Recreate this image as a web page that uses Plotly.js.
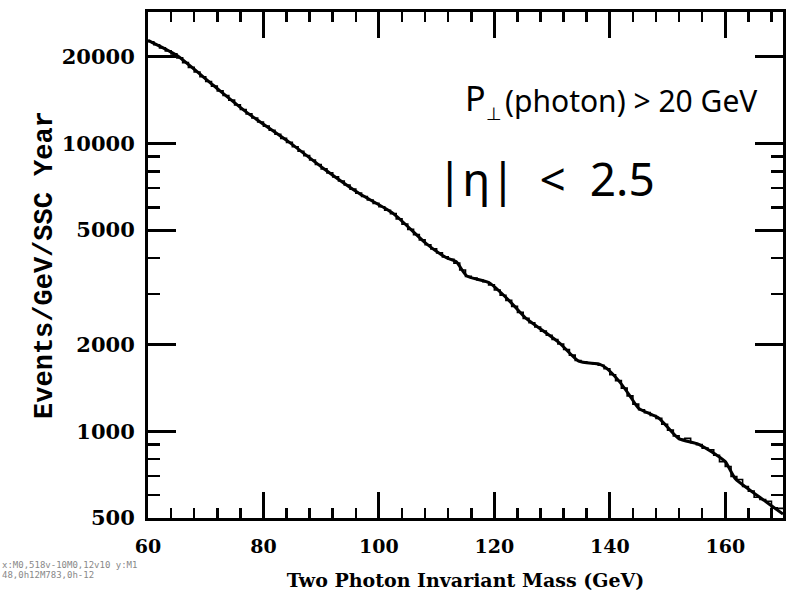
<!DOCTYPE html>
<html>
<head>
<meta charset="utf-8">
<script src="https://cdn.plot.ly/plotly-3.0.1.min.js"></script>
</head>
<body style="margin:0">
<div id="chart"></div>
<div id="dbg" style="position:absolute;left:2px;top:560px;font:9px monospace;width:140px;word-break:break-all;color:#888"></div>
<script>
// ---- Data ----
// Histogram bin edges (GeV), 1 GeV bins
const massEdges = [60,61,62,63,64,65,66,67,68,69,70,71,72,73,74,75,76,77,78,79,
  80,81,82,83,84,85,86,87,88,89,90,91,92,93,94,95,96,97,98,99,
  100,101,102,103,104,105,106,107,108,109,110,111,112,113,114,115,116,117,118,119,
  120,121,122,123,124,125,126,127,128,129,130,131,132,133,134,135,136,137,138,139,
  140,141,142,143,144,145,146,147,148,149,150,151,152,153,154,155,156,157,158,159,
  160,161,162,163,164,165,166,167,168,169,170];

// Events / GeV / SSC year in each bin
const eventsPerBin = [22540,22000,21470,20960,20460,19810,19080,18370,17690,17040,
  16410,15810,15220,14670,14130,13610,13110,12660,12250,11860,
  11480,11110,10760,10410,10080,9730,9390,9070,8755,8450,
  8157,7900,7650,7405,7170,6940,6720,6537,6362,6190,
  6022,5861,5702,5468,5242,5027,4820,4623,4444,4303,
  4167,4035,3961,3840,3633,3453,3404,3357,3309,3227,
  3096,2970,2850,2717,2589,2467,2382,2304,2228,2155,
  2084,2011,1923,1840,1761,1743,1730,1718,1697,1650,
  1573,1500,1413,1328,1243,1189,1161,1135,1109,1058,
  1010,964,938,945,913,899,874,862,826,785,
  755,697,680,643,620,590,580,572,542,540];

// Smooth curve through the distribution
const curveMass = [60,60.6,64.9,71.3,77.1,84.5,90.4,96.6,102.5,108.2,111.7,113.4,115.2,119.1,
  122.6,125.6,128.5,131.3,134.6,138.2,139.4,141.6,143.3,145.0,148.5,151.9,155.4,158.3,
  160.0,161.7,164.6,167.7,170];
const curveEvents = [22800,22490,20260,15920,12820,10080,8183,6697,5704,4486,4008,3880,3467,3281,
  2840,2456,2230,2026,1753,1711,1658,1494,1345,1202,1110,945,901,832,
  786,686,618,557,516];

// Axis ticks
const xTicks = [60,80,100,120,140,160];
const xMinorTicks = [64,68,72,76,84,88,92,96,104,108,112,116,124,128,132,136,144,148,152,156,164,168];
const yTicks = [500,1000,2000,5000,10000,20000];
const yMinorTicks = [600,700,800,900,3000,4000,6000,7000,8000,9000];

const xRange = [60, 170];
const yRange = [Math.log10(500), Math.log10(28600)];
const plotW = 795 - 148 - 12;
const plotH = 606 - 12 - 88;

const histY = eventsPerBin.concat([eventsPerBin[eventsPerBin.length - 1]]);

const traces = [
  {
    type: 'scatter', mode: 'lines',
    x: curveMass, y: curveEvents,
    line: {color: '#000000', width: 3, shape: 'spline', smoothing: 0.6}
  },
  {
    type: 'scatter', mode: 'lines',
    x: massEdges, y: histY,
    line: {color: '#000000', width: 1.6, shape: 'hv'}
  }
];

const layout = {
  width: 795, height: 606,
  paper_bgcolor: '#fff', plot_bgcolor: '#fff',
  margin: {l: 148, r: 12, t: 12, b: 88},
  showlegend: false,
  xaxis: {
    range: xRange,
    tickmode: 'array', tickvals: xTicks,
    ticks: 'inside', ticklen: 26, tickwidth: 3, tickcolor: '#000000',
    showline: true, linewidth: 3, linecolor: '#000000', mirror: 'ticks',
    showgrid: false, zeroline: false,
    minor: {tickmode: 'array', tickvals: xMinorTicks, ticks: 'inside', ticklen: 10, tickwidth: 2.5, tickcolor: '#000000', showgrid: false},
    tickfont: {family: 'DejaVu Serif', size: 19, color: '#000000', weight: 'bold'},
    ticklabelstandoff: 9,
    title: {text: 'Two Photon Invariant Mass (GeV)',
      font: {family: 'DejaVu Serif', size: 19, color: '#000000', weight: 'bold'}}
  },
  yaxis: {
    type: 'log',
    range: yRange,
    tickmode: 'array', tickvals: yTicks, tickformat: 'd',
    ticks: 'inside', ticklen: 28, tickwidth: 3, tickcolor: '#000000',
    showline: true, linewidth: 3, linecolor: '#000000', mirror: 'ticks',
    showgrid: false, zeroline: false,
    minor: {tickmode: 'array', tickvals: yMinorTicks, ticks: 'inside', ticklen: 12, tickwidth: 2.5, tickcolor: '#000000', showgrid: false},
    tickfont: {family: 'DejaVu Serif', size: 21, color: '#000000', weight: 'bold'},
    ticklabelstandoff: 6,
    title: {text: 'Events/GeV/SSC Year',
      font: {family: 'Liberation Mono', size: 27, color: '#000000', weight: 'bold'}}
  },
  annotations: [
    {
      xref: 'paper', yref: 'paper',
      x: (463 - 148) / plotW, y: (518 - 98) / plotH,
      xanchor: 'left', yanchor: 'middle',
      text: 'P', showarrow: false,
      font: {family: 'Noto Sans', size: 34, color: '#000000'}
    },
    {
      xref: 'paper', yref: 'paper',
      x: (484 - 148) / plotW, y: (518 - 114) / plotH,
      xanchor: 'left', yanchor: 'middle',
      text: '⊥', showarrow: false,
      font: {family: 'DejaVu Sans', size: 18, color: '#000000'}
    },
    {
      xref: 'paper', yref: 'paper',
      x: (503 - 148) / plotW, y: (518 - 100) / plotH,
      xanchor: 'left', yanchor: 'middle',
      text: '(photon) > 20 GeV', showarrow: false,
      font: {family: 'Noto Sans', size: 30, color: '#000000'}
    },
    {
      xref: 'paper', yref: 'paper',
      x: (435 - 148) / plotW, y: (518 - 178) / plotH,
      xanchor: 'left', yanchor: 'middle',
      text: '|η|  <  2.5', showarrow: false,
      font: {family: 'Noto Sans', size: 46, color: '#000000'}
    }
  ]
};

Plotly.newPlot('chart', traces, layout, {staticPlot: true}).then(gd => {
  const p = gd.querySelector('path.xtick');
  const q = gd.querySelector('path.ytick');
  document.getElementById('dbg').textContent =
    'x:' + (p ? p.getAttribute('d') : 'none') + ' y:' + (q ? q.getAttribute('d') : 'none');
});
</script>
</body>
</html>
